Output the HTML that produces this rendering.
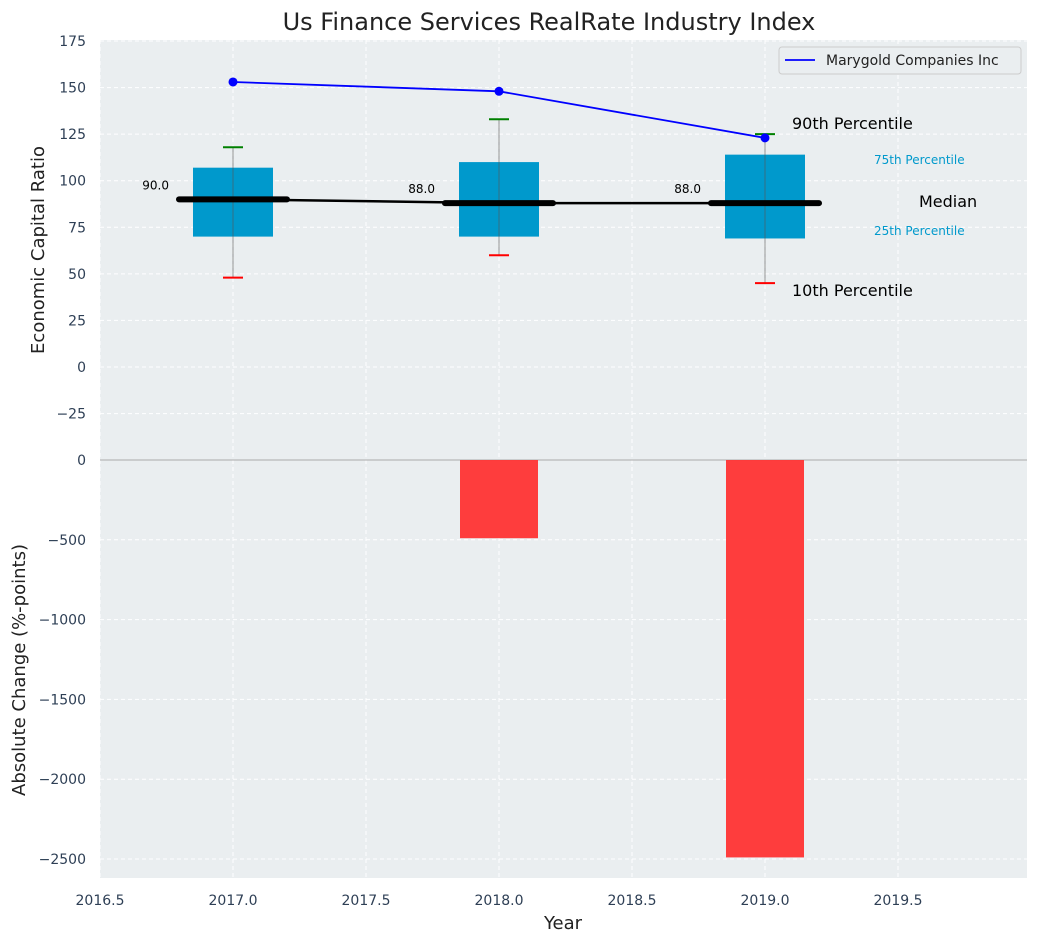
<!DOCTYPE html>
<html><head><meta charset="utf-8"><style>
body{margin:0;background:#fff;font-family:"Liberation Sans","DejaVu Sans",sans-serif}
svg text{font-family:"DejaVu Sans","Liberation Sans",sans-serif}
</style></head><body>
<svg id="chart" width="1039" height="942"></svg>
<script>
const years=[2017,2018,2019];
const p10=[48,60,45];
const p25=[70,70,69];
const p50=[90,88,88];
const p75=[107,110,114];
const p90=[118,133,125];
const company=[153,148,123];
const change=[0,-490,-2490];
const yTicksTop=[-25,0,25,50,75,100,125,150,175];
const yTicksBot=[-2500,-2000,-1500,-1000,-500,0];
const xTicks=[2016.5,2017,2017.5,2018,2018.5,2019,2019.5];

const svg=document.getElementById('chart');
const NS='http://www.w3.org/2000/svg';
function mk(t,a,p){const e=document.createElementNS(NS,t);for(const k in a)e.setAttribute(k,a[k]);(p||svg).appendChild(e);return e;}
const L=100,R=1027,T1=40,B1=460,T2=460,B2=878;
const x=v=>L+(v-2016.5)*266;
const y1=v=>367-v*46.57/25;
const y2=v=>460+(-v)*0.1596;
let e;
e=mk('rect',{x:L,y:T1,width:R-L,height:B1-T1,fill:'#eaeef0'});

e=mk('rect',{x:L,y:T2,width:R-L,height:B2-T2,fill:'#eaeef0'});

xTicks.forEach(t=>{mk('line',{x1:x(t),x2:x(t),y1:T1,y2:B2,stroke:'#fff','stroke-dasharray':'4,3','stroke-width':1});});
yTicksTop.forEach(t=>{mk('line',{x1:L,x2:R,y1:y1(t),y2:y1(t),stroke:'#fff','stroke-dasharray':'4,3'});
 e=mk('text',{x:L-14,y:y1(t)+5,'text-anchor':'end','font-size':14,fill:'#2e3f55'});e.textContent=String(t).replace('-','−');
 });
yTicksBot.forEach(t=>{mk('line',{x1:L,x2:R,y1:y2(t),y2:y2(t),stroke:'#fff','stroke-dasharray':'4,3'});
 e=mk('text',{x:L-14,y:y2(t)+5,'text-anchor':'end','font-size':14,fill:'#2e3f55'});e.textContent=String(t).replace('-','−');
 });
xTicks.forEach(t=>{e=mk('text',{x:x(t),y:905,'text-anchor':'middle','font-size':14,fill:'#2e3f55'});e.textContent=t.toFixed(1);
 });
mk('line',{x1:L,x2:R,y1:460,y2:460,stroke:'#aaa','stroke-width':1});
years.forEach((yr,i)=>{const cx=x(yr);
 e=mk('rect',{x:cx-40,y:y1(p75[i]),width:80,height:y1(p25[i])-y1(p75[i]),fill:'#0099cc'});
 
 mk('line',{x1:cx,x2:cx,y1:y1(p10[i]),y2:y1(p90[i]),stroke:'#555','stroke-opacity':0.6,'stroke-width':1});
 mk('line',{x1:cx-10,x2:cx+10,y1:y1(p90[i]),y2:y1(p90[i]),stroke:'green','stroke-width':2});
 mk('line',{x1:cx-10,x2:cx+10,y1:y1(p10[i]),y2:y1(p10[i]),stroke:'red','stroke-width':2});
 e=mk('text',{x:cx-64,y:y1(p50[i])-10,'text-anchor':'end','font-size':12,fill:'#000'});e.textContent=p50[i].toFixed(1);
 
});
e=mk('polyline',{points:years.map((yr,i)=>x(yr)+','+y1(p50[i])).join(' '),fill:'none',stroke:'#000','stroke-width':2.5});

years.forEach((yr,i)=>{mk('line',{x1:x(yr)-54,x2:x(yr)+54,y1:y1(p50[i]),y2:y1(p50[i]),stroke:'#000','stroke-width':6,'stroke-linecap':'round'});});
e=mk('polyline',{points:years.map((yr,i)=>x(yr)+','+y1(company[i])).join(' '),fill:'none',stroke:'blue','stroke-width':1.8});

years.forEach((yr,i)=>{e=mk('circle',{cx:x(yr),cy:y1(company[i]),r:4.5,fill:'blue'});});
years.forEach((yr,i)=>{if(change[i]===0)return;e=mk('rect',{x:x(yr)-39,y:460,width:78,height:y2(change[i])-460,fill:'#ff3333','fill-opacity':0.95});
 });
const ann=[["90th Percentile",792,129,16,'#000'],["75th Percentile",874,164,12,'#0099cc'],["Median",919,207,16,'#000'],["25th Percentile",874,235,12,'#0099cc'],["10th Percentile",792,296,16,'#000']];
ann.forEach(a=>{e=mk('text',{x:a[1],y:a[2],'font-size':a[3],fill:a[4]});e.textContent=a[0];});
e=mk('rect',{x:779,y:47,width:242,height:27,fill:'#eaeef0',stroke:'#ccc',rx:3});
mk('line',{x1:785,x2:815,y1:60,y2:60,stroke:'blue','stroke-width':1.8});
e=mk('text',{x:826,y:65,'font-size':14,fill:'#222'});e.textContent='Marygold Companies Inc';
e=mk('text',{x:549,y:30,'text-anchor':'middle','font-size':24,fill:'#222'});e.textContent='Us Finance Services RealRate Industry Index';
e=mk('text',{x:563,y:929,'text-anchor':'middle','font-size':18,fill:'#222'});e.textContent='Year';
e=mk('text',{x:44,y:250,'text-anchor':'middle','font-size':18,fill:'#222',transform:'rotate(-90 44 250)'});e.textContent='Economic Capital Ratio';
e=mk('text',{x:25,y:670,'text-anchor':'middle','font-size':18,fill:'#222',transform:'rotate(-90 25 670)'});e.textContent='Absolute Change (%-points)';
</script>
</body></html>
